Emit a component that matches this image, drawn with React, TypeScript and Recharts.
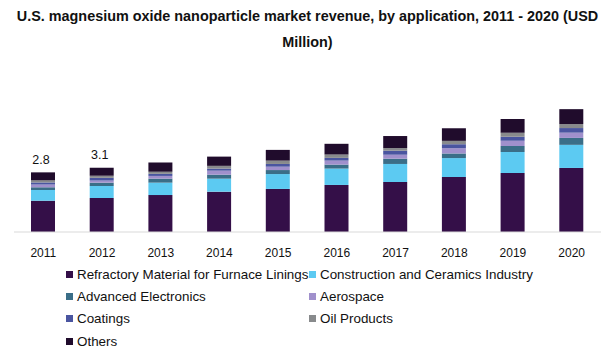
import React from 'react';
import { BarChart, Bar, XAxis, YAxis, Legend, LabelList } from 'recharts';

const years = ['2011', '2012', '2013', '2014', '2015', '2016', '2017', '2018', '2019', '2020'];

const refractory = [1.49, 1.62, 1.76, 1.92, 2.05, 2.24, 2.38, 2.62, 2.81, 3.05];
const construction = [0.51, 0.57, 0.59, 0.62, 0.71, 0.78, 0.86, 0.9, 1.0, 1.1];
const electronics = [0.13, 0.16, 0.19, 0.19, 0.19, 0.19, 0.25, 0.22, 0.29, 0.33];
const aerospace = [0.13, 0.1, 0.13, 0.19, 0.16, 0.19, 0.19, 0.25, 0.25, 0.25];
const coatings = [0.1, 0.13, 0.1, 0.1, 0.13, 0.13, 0.19, 0.19, 0.19, 0.22];
const oilProducts = [0.1, 0.1, 0.1, 0.13, 0.16, 0.16, 0.13, 0.16, 0.19, 0.19];
const others = [0.38, 0.38, 0.44, 0.44, 0.51, 0.51, 0.57, 0.6, 0.65, 0.71];

// only the first two years carry a total label
const totalLabels = ['2.8', '3.1', '', '', '', '', '', '', '', ''];

const series = [
  { key: 'refractory', name: 'Refractory Material for Furnace Linings', color: '#340f48', values: refractory },
  { key: 'construction', name: 'Construction and Ceramics Industry', color: '#5ccaf2', values: construction },
  { key: 'electronics', name: 'Advanced Electronics', color: '#3a6e88', values: electronics },
  { key: 'aerospace', name: 'Aerospace', color: '#a090cc', values: aerospace },
  { key: 'coatings', name: 'Coatings', color: '#4a55a0', values: coatings },
  { key: 'oil', name: 'Oil Products', color: '#888a8c', values: oilProducts },
  { key: 'others', name: 'Others', color: '#200c2c', values: others },
];

const data = years.map((year, i) => {
  const row: Record<string, string | number> = { year, total: totalLabels[i] };
  series.forEach(s => {
    row[s.key] = s.values[i];
  });
  return row;
});

const FONT = '"Liberation Sans", Arial, sans-serif';

const renderLegend = () => (
  <div
    style={{
      display: 'grid',
      gridTemplateColumns: '243px 270px',
      fontFamily: FONT,
      fontSize: 13.4,
      color: '#111',
    }}
  >
    {series.map(s => (
      <div key={s.key} style={{ display: 'flex', alignItems: 'center', height: 22.4, whiteSpace: 'nowrap' }}>
        <span style={{ display: 'inline-block', width: 7, height: 7, background: s.color, marginRight: 4 }} />
        <span>{s.name}</span>
      </div>
    ))}
  </div>
);

const renderTotal = (props: any) => {
  const { x, y, width, value } = props;
  if (!value) return null;
  return (
    <text x={x + width / 2 - 2} y={y - 12} textAnchor="middle" dominantBaseline="middle" fontSize={12.5} fill="#111" fontFamily={FONT}>
      {value}
    </text>
  );
};

const App: React.FC = () => {
  return (
    <div style={{ position: 'absolute', left: 0, top: 0, width: 615, height: 353, background: '#fff' }}>
      <div
        style={{
          position: 'absolute',
          left: 0,
          top: 3,
          width: 615,
          textAlign: 'center',
          fontFamily: FONT,
          fontWeight: 'bold',
          fontSize: 14.4,
          lineHeight: '26px',
          color: '#111',
        }}
      >
        U.S. magnesium oxide nanoparticle market revenue, by application, 2011 - 2020 (USD
        <br />
        Million)
      </div>
      <BarChart
        width={615}
        height={353}
        data={data}
        margin={{ top: 85, right: 14, left: 14, bottom: 91 }}
        style={{ position: 'absolute', left: 0, top: 0 }}
      >
        <XAxis
          dataKey="year"
          tickLine={false}
          axisLine={{ stroke: '#d9d9d9' }}
          tickMargin={10}
          height={30}
          tick={{ fontSize: 12, fill: '#111', fontFamily: FONT }}
        />
        <YAxis hide domain={[0, 7]} />
        <Legend
          verticalAlign="middle"
          align="center"
          layout="horizontal"
          content={renderLegend}
          wrapperStyle={{ position: 'absolute', top: 263, left: 66, width: 530, height: 90 }}
        />
        {series.map((s, idx) => (
          <Bar key={s.key} dataKey={s.key} name={s.name} stackId="a" fill={s.color} barSize={24} isAnimationActive={false}>
            {idx === series.length - 1 && <LabelList dataKey="total" content={renderTotal} />}
          </Bar>
        ))}
      </BarChart>
    </div>
  );
};

export default App;
